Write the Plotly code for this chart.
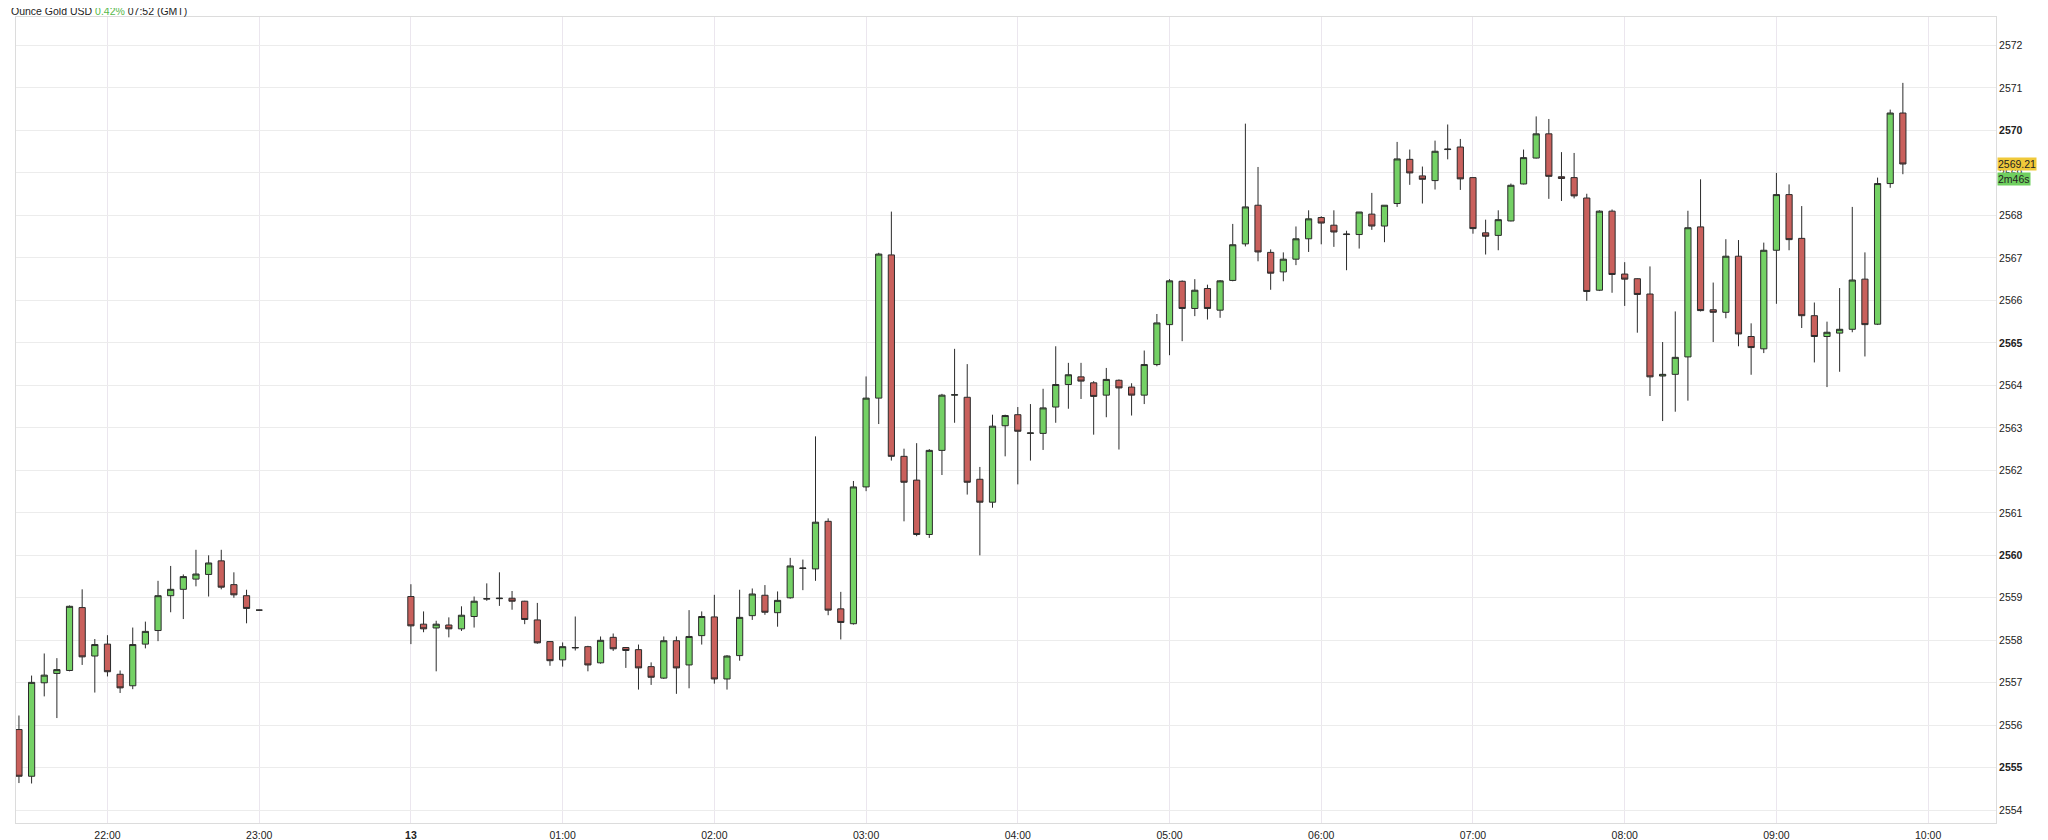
import pandas as pd
import plotly.graph_objects as go

# Session 1 (12th, 21:25 - 22:55, 5-minute candles)
s1_start = "2024-11-12 21:25"
s1_open = [2555.9, 2554.8, 2557.0, 2557.22, 2557.29, 2558.77, 2557.63, 2557.91, 2557.2, 2556.93,
           2557.91, 2558.23, 2559.05, 2559.2, 2559.44, 2559.55, 2559.87, 2559.31, 2559.05, 2558.71]
s1_high = [2556.23, 2557.17, 2557.69, 2557.58, 2558.82, 2559.2, 2558.03, 2558.12, 2557.29, 2558.3,
           2558.44, 2559.4, 2559.75, 2559.55, 2560.13, 2560.0, 2560.13, 2559.6, 2559.19, 2558.72]
s1_low = [2554.64, 2554.63, 2556.68, 2556.17, 2557.27, 2557.42, 2556.77, 2557.15, 2556.76, 2556.85,
          2557.81, 2557.98, 2558.66, 2558.5, 2559.27, 2559.03, 2559.2, 2559.0, 2558.4, 2558.70]
s1_close = [2554.8, 2557.01, 2557.18, 2557.31, 2558.8, 2557.61, 2557.9, 2557.26, 2556.88, 2557.9,
            2558.21, 2559.05, 2559.2, 2559.5, 2559.56, 2559.82, 2559.25, 2559.07, 2558.75, 2558.71]

# Session 2 (13th, 00:00 - 09:50)
s2_start = "2024-11-13 00:00"
s2_ohlc = [
    (2559.03, 2559.32, 2557.91, 2558.34), (2558.38, 2558.68, 2558.19, 2558.27),
    (2558.29, 2558.46, 2557.27, 2558.38), (2558.36, 2558.54, 2558.07, 2558.27),
    (2558.27, 2558.80, 2558.22, 2558.59), (2558.56, 2559.03, 2558.30, 2558.92),
    (2558.97, 2559.34, 2558.93, 2558.98), (2558.98, 2559.60, 2558.81, 2558.99),
    (2558.99, 2559.16, 2558.72, 2558.92), (2558.92, 2558.93, 2558.38, 2558.49),
    (2558.48, 2558.88, 2557.92, 2557.94), (2557.97, 2557.98, 2557.40, 2557.52),
    (2557.54, 2557.95, 2557.38, 2557.85), (2557.82, 2558.56, 2557.76, 2557.83),
    (2557.85, 2557.87, 2557.27, 2557.42), (2557.47, 2558.09, 2557.45, 2558.00),
    (2558.07, 2558.16, 2557.75, 2557.80), (2557.83, 2557.84, 2557.35, 2557.76),
    (2557.78, 2557.90, 2556.84, 2557.35), (2557.38, 2557.48, 2556.95, 2557.13),
    (2557.11, 2558.09, 2557.09, 2557.99), (2557.99, 2558.09, 2556.74, 2557.35),
    (2557.42, 2558.71, 2556.87, 2558.09), (2558.11, 2558.68, 2557.90, 2558.56),
    (2558.55, 2559.07, 2556.98, 2557.09), (2557.09, 2557.65, 2556.84, 2557.63),
    (2557.64, 2559.19, 2557.52, 2558.54), (2558.58, 2559.22, 2558.48, 2559.09),
    (2559.06, 2559.30, 2558.60, 2558.66), (2558.65, 2559.15, 2558.32, 2558.94),
    (2559.00, 2559.94, 2558.98, 2559.75), (2559.69, 2559.90, 2559.18, 2559.70),
    (2559.68, 2562.80, 2559.40, 2560.78), (2560.80, 2560.87, 2558.59, 2558.71),
    (2558.74, 2559.14, 2558.02, 2558.42), (2558.39, 2561.75, 2558.37, 2561.61),
    (2561.61, 2564.21, 2561.51, 2563.70), (2563.70, 2567.12, 2563.09, 2567.09),
    (2567.07, 2568.09, 2562.23, 2562.33), (2562.33, 2562.51, 2560.80, 2561.72),
    (2561.77, 2562.64, 2560.45, 2560.49), (2560.49, 2562.50, 2560.41, 2562.47),
    (2562.47, 2563.80, 2561.89, 2563.77), (2563.77, 2564.86, 2563.12, 2563.78),
    (2563.72, 2564.50, 2561.43, 2561.72), (2561.79, 2562.08, 2560.00, 2561.25),
    (2561.25, 2563.31, 2561.12, 2563.04), (2563.05, 2563.31, 2562.33, 2563.29),
    (2563.31, 2563.49, 2561.67, 2562.92), (2562.87, 2563.56, 2562.23, 2562.88),
    (2562.87, 2563.92, 2562.48, 2563.47), (2563.49, 2564.92, 2563.12, 2564.02),
    (2564.02, 2564.53, 2563.45, 2564.25), (2564.20, 2564.53, 2563.68, 2564.10),
    (2564.06, 2564.10, 2562.84, 2563.74), (2563.77, 2564.41, 2563.25, 2564.14),
    (2564.12, 2564.14, 2562.49, 2563.94), (2563.96, 2564.05, 2563.29, 2563.77),
    (2563.77, 2564.82, 2563.56, 2564.49), (2564.49, 2565.68, 2564.45, 2565.47),
    (2565.43, 2566.50, 2564.71, 2566.46), (2566.45, 2566.47, 2565.04, 2565.81),
    (2565.81, 2566.50, 2565.63, 2566.24), (2566.28, 2566.37, 2565.55, 2565.81),
    (2565.77, 2566.48, 2565.59, 2566.46), (2566.47, 2567.80, 2566.45, 2567.31),
    (2567.33, 2570.16, 2567.27, 2568.20), (2568.24, 2569.14, 2566.92, 2567.14),
    (2567.13, 2567.20, 2566.25, 2566.64), (2566.67, 2567.13, 2566.45, 2566.97),
    (2566.97, 2567.74, 2566.83, 2567.45), (2567.45, 2568.12, 2567.14, 2567.92),
    (2567.95, 2567.98, 2567.32, 2567.82), (2567.77, 2568.12, 2567.26, 2567.61),
    (2567.55, 2567.64, 2566.71, 2567.56), (2567.55, 2568.08, 2567.22, 2568.08),
    (2568.03, 2568.53, 2567.66, 2567.75), (2567.75, 2568.24, 2567.37, 2568.24),
    (2568.28, 2569.73, 2568.20, 2569.33), (2569.32, 2569.55, 2568.72, 2569.00),
    (2568.93, 2569.15, 2568.28, 2568.85), (2568.82, 2569.76, 2568.61, 2569.51),
    (2569.55, 2570.14, 2569.32, 2569.56), (2569.61, 2569.80, 2568.60, 2568.86),
    (2568.89, 2568.90, 2567.57, 2567.69), (2567.59, 2567.90, 2567.08, 2567.51),
    (2567.53, 2568.12, 2567.18, 2567.90), (2567.87, 2568.75, 2567.86, 2568.71),
    (2568.74, 2569.55, 2568.73, 2569.36), (2569.35, 2570.33, 2569.34, 2569.92),
    (2569.92, 2570.27, 2568.39, 2568.92), (2568.91, 2569.49, 2568.34, 2568.87),
    (2568.89, 2569.47, 2568.40, 2568.46), (2568.41, 2568.51, 2565.99, 2566.21),
    (2566.24, 2568.12, 2566.22, 2568.10), (2568.10, 2568.14, 2566.18, 2566.61),
    (2566.62, 2566.90, 2565.87, 2566.50), (2566.51, 2566.52, 2565.24, 2566.14),
    (2566.15, 2566.80, 2563.75, 2564.20), (2564.22, 2565.02, 2563.16, 2564.26),
    (2564.26, 2565.74, 2563.38, 2564.66), (2564.67, 2568.11, 2563.64, 2567.71),
    (2567.73, 2568.85, 2565.74, 2565.76), (2565.78, 2566.42, 2565.02, 2565.72),
    (2565.72, 2567.44, 2565.58, 2567.04), (2567.04, 2567.42, 2564.92, 2565.21),
    (2565.15, 2565.46, 2564.25, 2564.89), (2564.86, 2567.36, 2564.76, 2567.18),
    (2567.18, 2569.00, 2565.92, 2568.49), (2568.49, 2568.73, 2567.18, 2567.43),
    (2567.46, 2568.22, 2565.35, 2565.64), (2565.64, 2565.95, 2564.54, 2565.15),
    (2565.15, 2565.50, 2563.96, 2565.25), (2565.23, 2566.29, 2564.32, 2565.32),
    (2565.32, 2568.20, 2565.25, 2566.48), (2566.50, 2567.13, 2564.68, 2565.43),
    (2565.44, 2568.89, 2565.42, 2568.75), (2568.75, 2570.49, 2568.65, 2570.41),
    (2570.41, 2571.12, 2568.97, 2569.21),
]

x_tickvals = pd.date_range("2024-11-12 22:00", "2024-11-13 10:00", freq="1h")
x_ticktext = ["22:00", "23:00", "<b>13</b>", "01:00", "02:00", "03:00", "04:00", "05:00",
              "06:00", "07:00", "08:00", "09:00", "10:00"]
y_tickvals = list(range(2554, 2573))
y_ticktext = [f"<b>{v}</b>" if v % 5 == 0 else str(v) for v in y_tickvals]

last_price = "2569.21"
countdown = "2m46s"

t1 = pd.date_range(s1_start, periods=len(s1_open), freq="5min")
t2 = pd.date_range(s2_start, periods=len(s2_ohlc), freq="5min")
times = list(t1) + list(t2)
opens = s1_open + [r[0] for r in s2_ohlc]
highs = s1_high + [r[1] for r in s2_ohlc]
lows = s1_low + [r[2] for r in s2_ohlc]
closes = s1_close + [r[3] for r in s2_ohlc]

fig = go.Figure(go.Candlestick(
    x=times, open=opens, high=highs, low=lows, close=closes,
    increasing=dict(line=dict(color="#2b2b2b", width=1), fillcolor="#74d165"),
    decreasing=dict(line=dict(color="#2b2b2b", width=1), fillcolor="#c9605c"),
    whiskerwidth=0, showlegend=False, hoverinfo="skip",
))

fig.update_layout(
    width=2048, height=840,
    margin=dict(l=7, r=60, t=9, b=17),
    paper_bgcolor="white", plot_bgcolor="white",
    font=dict(family="Liberation Sans, Arial, sans-serif", size=10.5, color="#222"),
    xaxis=dict(
        type="date", rangeslider=dict(visible=False),
        range=["2024-11-12 21:23:50", "2024-11-13 10:26:50"],
        tickvals=x_tickvals, ticktext=x_ticktext, ticks="", ticklabelstandoff=2,
        showgrid=True, gridcolor="#ebe6ee", gridwidth=1,
        showline=True, mirror=True, linecolor="#dcdcdc", zeroline=False,
        tickfont=dict(size=10.5, color="#222"),
    ),
    yaxis=dict(
        side="right", range=[2553.70, 2572.67],
        tickvals=y_tickvals, ticktext=y_ticktext, ticks="",
        showgrid=True, gridcolor="#ececec", gridwidth=1,
        showline=True, mirror=True, linecolor="#dcdcdc", zeroline=False,
        tickfont=dict(size=10.5, color="#222"),
    ),
    annotations=[
        dict(text="Ounce Gold USD <span style='color:#56b84a'>0.42%</span> 07:52 (GMT)",
             xref="paper", yref="paper", x=0, y=1, xanchor="left", yanchor="bottom",
             xshift=-7, yshift=-2, showarrow=False, font=dict(size=10.5, color="#222")),
        dict(text=last_price, xref="paper", yref="y", x=1, y=float(last_price),
             xanchor="left", yanchor="bottom", xshift=1, yshift=-7, showarrow=False,
             bgcolor="#f0c93a", font=dict(size=10.5, color="#222"), borderpad=0),
        dict(text=countdown, xref="paper", yref="y", x=1, y=float(last_price),
             xanchor="left", yanchor="top", xshift=1, yshift=-8, showarrow=False,
             bgcolor="#6fcf5f", font=dict(size=10.5, color="#222"), borderpad=0),
    ],
)

fig.write_html("out.html")
